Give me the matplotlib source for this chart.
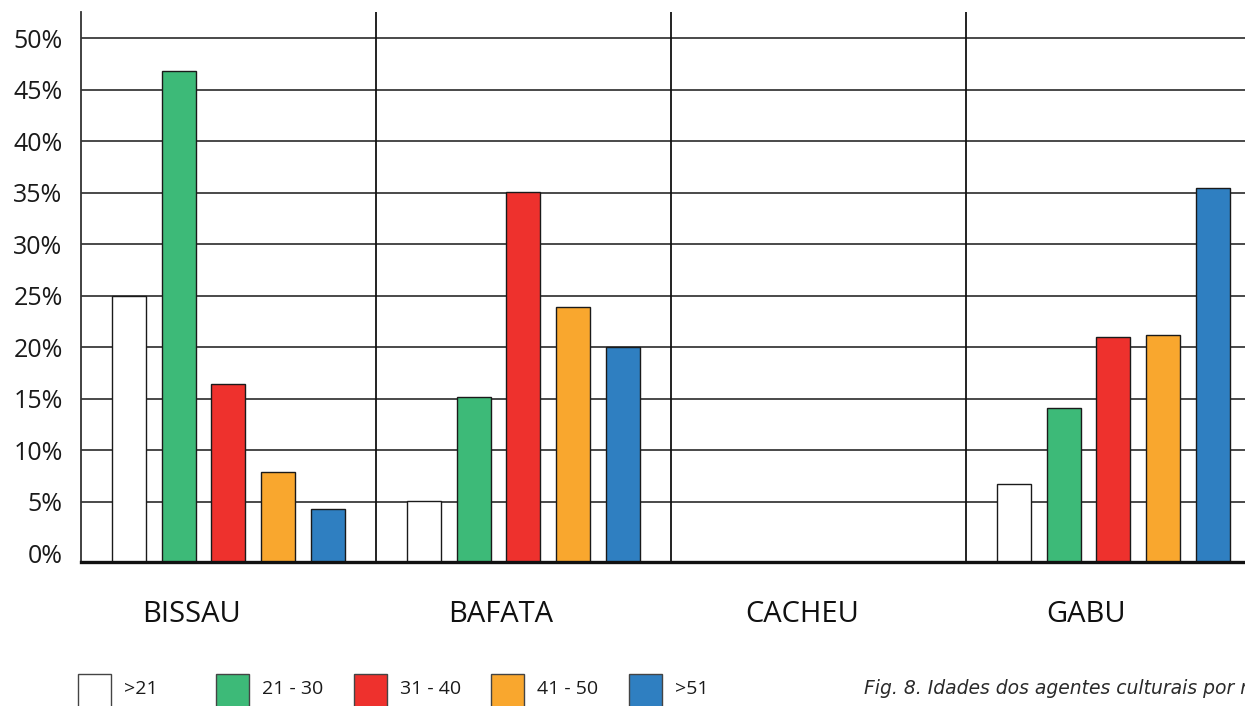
import matplotlib
matplotlib.use("Agg")
import matplotlib.pyplot as plt
import matplotlib.transforms as mtransforms
from matplotlib.patches import Rectangle

# Regions and age groups
regions = ["BISSAU", "BAFATA", "CACHEU", "GABU"]
age_groups = [">21", "21 - 30", "31 - 40", "41 - 50", ">51"]
colors = ["#ffffff", "#3dba78", "#ee312d", "#f9a72e", "#2f7fc1"]

# Share (%) of cultural agents per age group, by region
pct_lt21 = [25.0, 5.1, 0.0, 6.7]
pct_21_30 = [46.8, 15.2, 0.0, 14.1]
pct_31_40 = [16.4, 35.1, 0.0, 21.0]
pct_41_50 = [7.9, 23.9, 0.0, 21.2]
pct_gt51 = [4.3, 20.0, 0.0, 35.5]
series = [pct_lt21, pct_21_30, pct_31_40, pct_41_50, pct_gt51]

y_ticks = list(range(0, 51, 5))
caption = "Fig. 8. Idades dos agentes culturais por região"

W, H = 1245, 706
fig = plt.figure(figsize=(W / 100, H / 100), dpi=100)
fig.patch.set_facecolor("white")

# axes spans past the right border of the figure
ax_left, ax_right, ax_top, ax_bottom = 80.7, 1261.0, 12.0, 562.0
ax = fig.add_axes([ax_left / W, 1 - ax_bottom / H,
                   (ax_right - ax_left) / W, (ax_bottom - ax_top) / H])

y_min, y_max = -0.85, 52.55
ax.set_xlim(0, len(regions))
ax.set_ylim(y_min, y_max)

# horizontal gridlines (no line at 0 %)
for v in y_ticks[1:]:
    ax.axhline(v, color="#2a2a2a", lw=1.2, zorder=1)
# vertical separators between regions
for i in range(1, len(regions)):
    ax.axvline(i, color="#111111", lw=1.3, zorder=1)

bar_step = 0.1685
bar_w = 0.1153
for j, (vals, col) in enumerate(zip(series, colors)):
    for i, v in enumerate(vals):
        if v <= 0:
            continue
        x = i + 0.5 + (j - 2) * bar_step
        ax.bar(x, v - y_min, width=bar_w, bottom=y_min, color=col,
               edgecolor="#1a1a1a", linewidth=1.0, zorder=3)

for s in ["top", "right"]:
    ax.spines[s].set_visible(False)
ax.spines["left"].set_color("#333333")
ax.spines["left"].set_linewidth(1.3)
ax.spines["bottom"].set_color("#111111")
ax.spines["bottom"].set_linewidth(2.4)
ax.spines["bottom"].set_zorder(5)

ax.set_yticks(y_ticks)
ax.set_yticklabels([f"{v}%" for v in y_ticks], fontsize=18,
                   family="Open Sans", color="#1a1a1a")
ax.tick_params(axis="y", length=0, pad=13)
ax.set_xticks([])

# region names below the axis, shifted left of each group's centre
label_shift = [-0.125, -0.078, -0.054, -0.092]
trans = mtransforms.blended_transform_factory(ax.transData, fig.transFigure)
for i, name in enumerate(regions):
    ax.text(i + 0.5 + label_shift[i], 1 - 614 / H, name, transform=trans,
            ha="center", va="center", fontsize=21, family="Open Sans",
            color="#111111")

# legend row
for j, (lab, col) in enumerate(zip(age_groups, colors)):
    x0 = 78 + j * 137.8
    fig.patches.append(Rectangle((x0 / W, 1 - 708 / H), 33 / W, 34 / H,
                                 transform=fig.transFigure, facecolor=col,
                                 edgecolor="#444444", linewidth=1.0))
    fig.text((x0 + 46) / W, 1 - 689 / H, lab, ha="left", va="center",
             fontsize=14, family="Open Sans", color="#1a1a1a")

fig.text(864 / W, 1 - 688 / H, caption, ha="left", va="center",
         fontsize=13.5, family="DejaVu Sans", style="italic", color="#2a2a2a")

fig.savefig("out.png", dpi=100, facecolor="white")
